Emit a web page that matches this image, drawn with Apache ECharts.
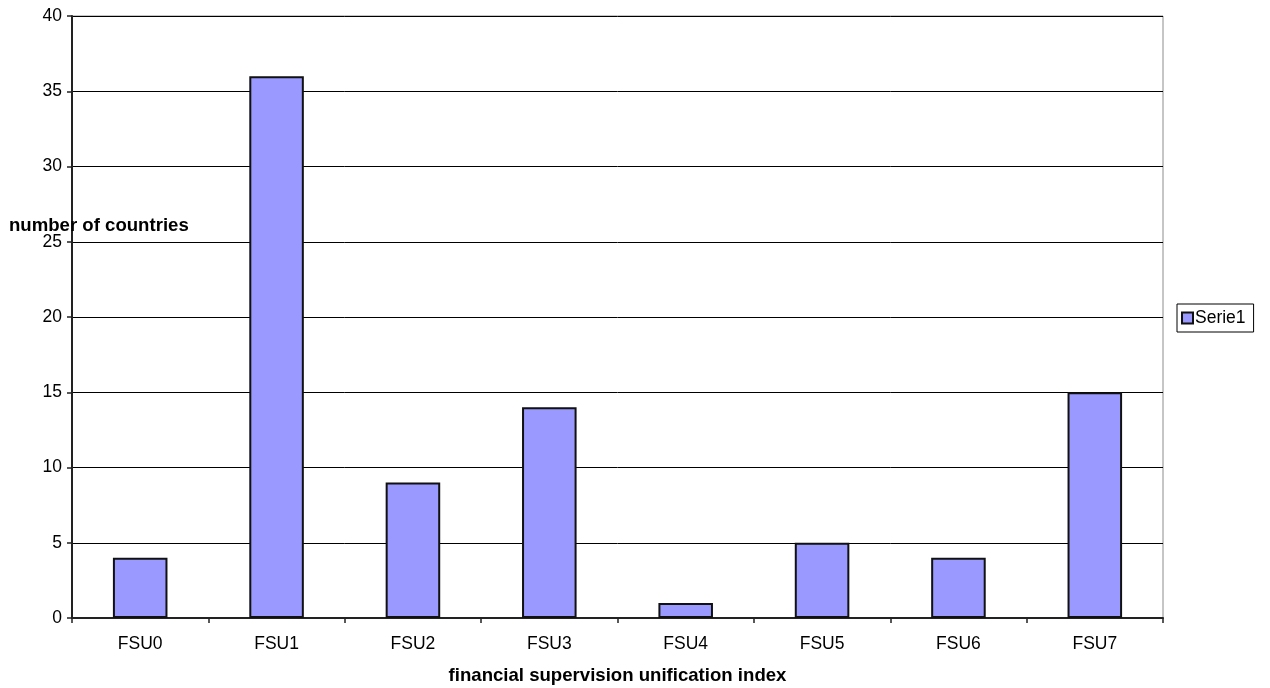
<!DOCTYPE html>
<html><head><meta charset="utf-8">
<script src="https://cdn.jsdelivr.net/npm/echarts@6/dist/echarts.min.js"></script>
<style>html,body{margin:0;padding:0;background:#fff}#c{width:1270px;height:688px}</style>
</head><body><div id="c"></div>
<script>
const categories = ['FSU0','FSU1','FSU2','FSU3','FSU4','FSU5','FSU6','FSU7'];
const serie1 = [4, 36, 9, 14, 1, 5, 4, 15];
const seriesName = 'Serie1';
const yTitle = 'number of countries';
const xTitle = 'financial supervision unification index';

const chart = echarts.init(document.getElementById('c'), null, {renderer:'canvas'});
chart.setOption({
  animation:false,
  backgroundColor:'#fff',
  textStyle:{fontFamily:'Liberation Sans, Arial, sans-serif'},
  title:{text:yTitle,left:9,top:216,padding:0,
    textStyle:{fontSize:18.6,fontWeight:'bold',color:'#000',fontFamily:'Liberation Sans, Arial, sans-serif'}},
  legend:{data:[seriesName],left:1177,top:304,orient:'vertical',
    borderColor:'#000',borderWidth:1,padding:[5,8,5,4],
    itemWidth:11,itemHeight:11,itemGap:4,icon:'rect',
    textStyle:{fontSize:17.5,color:'#000',padding:[0,0,0,-3]}},
  grid:{left:72,right:107,top:16,bottom:70,show:true,borderColor:'#8c8c8c',borderWidth:1,
    containLabel:false,outerBoundsMode:'none'},
  xAxis:{type:'category',data:categories,
    name:xTitle,nameLocation:'middle',nameGap:48,
    nameTextStyle:{fontSize:18.6,fontWeight:'bold',color:'#000'},
    axisLine:{lineStyle:{color:'#222',width:2}},
    axisTick:{show:true,alignWithLabel:false,length:5,lineStyle:{color:'#222',width:1.5}},
    axisLabel:{fontSize:17.5,color:'#000',margin:17}},
  yAxis:{type:'value',min:0,max:40,interval:5,
    axisLine:{show:true,lineStyle:{color:'#222',width:2}},
    axisTick:{show:true,length:5,lineStyle:{color:'#222',width:1.5}},
    axisLabel:{fontSize:17.5,color:'#000',margin:10},
    splitLine:{lineStyle:{color:'#000',width:1}}},
  series:[{name:seriesName,type:'bar',data:serie1,barWidth:'40%',
    itemStyle:{color:'#9999FF',borderColor:'#111',borderWidth:2}}]
});
</script></body></html>
